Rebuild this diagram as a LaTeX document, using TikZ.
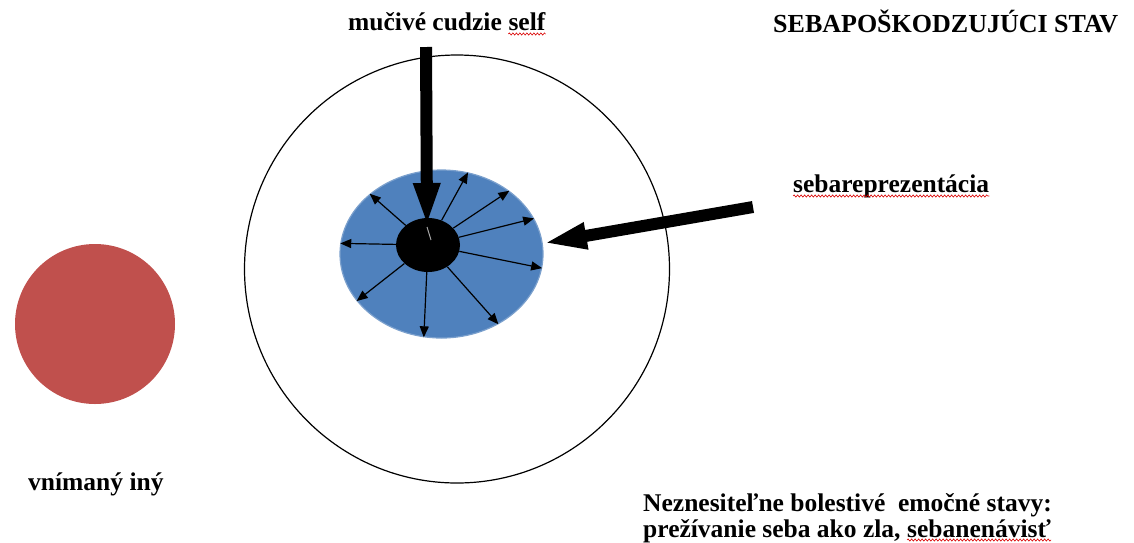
\documentclass[tikz,border=0pt]{standalone}
\usepackage{fontspec}
\setmainfont{Liberation Serif}
\usetikzlibrary{arrows.meta,shapes.geometric,decorations.pathmorphing}

\definecolor{selfblue}{RGB}{79,129,189}
\definecolor{otherred}{RGB}{192,80,77}

\begin{document}
\begin{tikzpicture}[x=1pt,y=-1pt,
  lbl/.style={font=\bfseries\fontsize{25.5}{30}\selectfont, inner sep=0pt, text=black},
  tight/.style={text height=17pt, text depth=3pt},
  bigarrow/.style={line width=12pt, -{Triangle[length=44pt,width=24pt]}},
  ray/.style={line width=1.2pt, -{Triangle[length=11pt,width=9pt]}},
  spellwave/.style={draw=red!85!black, line width=0.6pt, decorate,
    decoration={snake, amplitude=1.1pt, segment length=3.5pt}},
]
\useasboundingbox (0,0) rectangle (1134,542);

% the self's world, the other, the self representation and its core
\node[ellipse, draw, line width=1.2pt, minimum width=425pt, minimum height=428pt, inner sep=0pt] (world) at (457,269) {};
\node[circle, fill=otherred, minimum size=160pt, inner sep=0pt] (other) at (95,324) {};
\node[ellipse, fill=selfblue, draw=selfblue!75!white, line width=1.2pt, minimum width=203pt, minimum height=168pt, inner sep=0pt] (rep) at (441.5,254) {};
\node[ellipse, fill=black, minimum width=64pt, minimum height=54pt, inner sep=0pt] (core) at (428,245) {};

% rays from the core out to the edge of the representation
\foreach \a in {140,174,209,258,309,352,21.5,43,72}
  \draw[ray] (core) -- (rep.\a);

% labels
\node[lbl, anchor=base west] (alien) at (348,30) {mučivé cudzie};
\node[lbl, anchor=base west] (selfw) at ([xshift=6.25pt]alien.base east) {self};
\node[lbl, anchor=base west, font=\bfseries\fontsize{26}{30}\selectfont] (title) at (773,32) {SEBAPOŠKODZUJÚCI STAV};
\node[lbl, anchor=base west] (replabel) at (793,192) {sebareprezentácia};
\node[lbl, anchor=base west] (otherlabel) at (28,490) {vnímaný iný};
\node[lbl, tight, anchor=base west] (states) at (643,511) {Neznesiteľne bolestivé\ \ emočné stavy:};
\node[lbl, tight, anchor=base west] (states2) at (643,537) {prežívanie seba ako zla,};
\node[lbl, tight, anchor=base west] (hate) at ([xshift=6.25pt]states2.base east) {sebanenávisť};

% spell-check squiggles
\draw[spellwave] ([yshift=-4pt]selfw.base west) -- ([yshift=-4pt]selfw.base east);
\draw[spellwave] ([yshift=-4pt]replabel.base west) -- ([yshift=-4pt]replabel.base east);
\draw[spellwave] ([yshift=-3pt]hate.base west) -- ([yshift=-3pt]hate.base east);

% heavy arrows
\coordinate (alienfoot) at (426,47);
\coordinate (coretop) at (427,227);
\draw[bigarrow] (alienfoot) -- (coretop);
\draw[gray!70, line width=1pt] (coretop) -- (431,240);

\coordinate (reptail) at (753,207);
\draw[bigarrow] (reptail) -- (rep.6);
\end{tikzpicture}
\end{document}
